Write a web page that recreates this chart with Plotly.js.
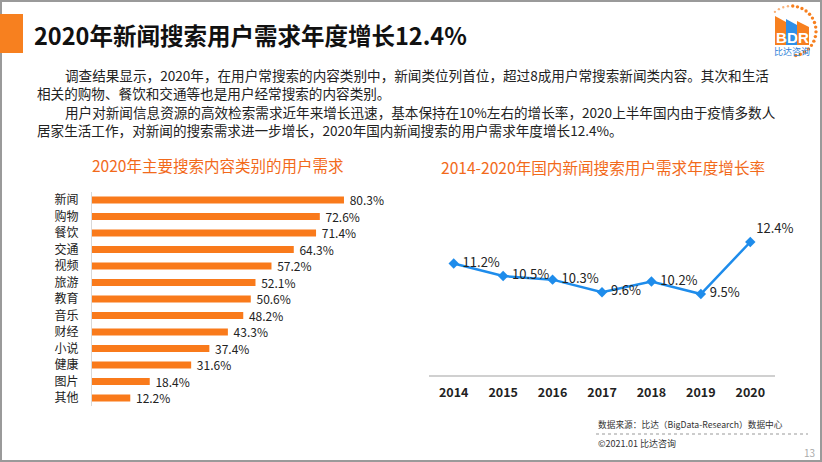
<!DOCTYPE html>
<html>
<head>
<meta charset="utf-8">
<script src="https://cdn.plot.ly/plotly-3.0.1.min.js"></script>
<style>
  html, body { margin: 0; padding: 0; background: #fff; }
  #chart { width: 822px; height: 462px; }
</style>
</head>
<body>
<div id="chart"></div>
<script>
// ---- data ----
const categories = ['新闻','购物','餐饮','交通','视频','旅游','教育','音乐','财经','小说','健康','图片','其他'];
const demand = [80.3,72.6,71.4,64.3,57.2,52.1,50.6,48.2,43.3,37.4,31.6,18.4,12.2];
const years = ['2014','2015','2016','2017','2018','2019','2020'];
const growth = [11.2,10.5,10.3,9.6,10.2,9.5,12.4];

// ---- helpers: pixel -> paper ----
const W = 822, H = 462;
const px = x => x / W;
const py = y => 1 - y / H;

const FONT = '"Noto Sans CJK SC", "Noto Sans", sans-serif';
const ORANGE = '#F97A1B';
const BLUE = '#1E8CEB';

const barTrace = {
  type: 'bar',
  orientation: 'h',
  x: demand,
  y: categories,
  xaxis: 'x', yaxis: 'y',
  marker: { color: ORANGE, line: { width: 0 } },
  text: demand.map(v => ' ' + v.toFixed(1) + '%'),
  textposition: 'outside',
  constraintext: 'none',
  textfont: { family: FONT, size: 12, color: '#222' },
  cliponaxis: false,
  hoverinfo: 'none'
};

const lastIdx = growth.length - 1;
const lineTrace = {
  type: 'scatter',
  mode: 'lines+markers+text',
  x: years,
  y: growth,
  xaxis: 'x2', yaxis: 'y2',
  line: { color: BLUE, width: 2.5 },
  marker: { symbol: 'diamond', size: 8, color: BLUE },
  text: growth.map((v, i) => (i === lastIdx ? '' : ' ') + v.toFixed(1) + '%'),
  textposition: growth.map((v, i) => i === lastIdx ? 'top right' : 'middle right'),
  textfont: { family: FONT, size: 13, color: '#222' },
  cliponaxis: false,
  hoverinfo: 'none'
};

const ann = (text, x, y, opts = {}) => Object.assign({
  text, x: px(x), y: py(y), xref: 'paper', yref: 'paper',
  xanchor: 'left', yanchor: 'middle', showarrow: false,
  font: { family: FONT, size: 13.5, color: '#222' }
}, opts);

const paraFont = { family: FONT, size: 13.6, color: '#222' };
const logoFont = { family: 'Liberation Sans, Arial, sans-serif', size: 15, color: '#fff', weight: 'bold' };

const annotations = [
  ann('2020年新闻搜索用户需求年度增长12.4%', 32, 35, { font: { family: FONT, size: 23.5, color: '#111', weight: 'bold' } }),
  ann('调查结果显示，2020年，在用户常搜索的内容类别中，新闻类位列首位，超过8成用户常搜索新闻类内容。其次和生活', 63, 75, { font: paraFont }),
  ann('相关的购物、餐饮和交通等也是用户经常搜索的内容类别。', 35, 93, { font: paraFont }),
  ann('用户对新闻信息资源的高效检索需求近年来增长迅速，基本保持在10%左右的增长率，2020上半年国内由于疫情多数人', 63, 112, { font: paraFont }),
  ann('居家生活工作，对新闻的搜索需求进一步增长，2020年国内新闻搜索的用户需求年度增长12.4%。', 35, 130, { font: paraFont }),
  ann('2020年主要搜索内容类别的用户需求', 90, 165, { font: { family: FONT, size: 15.5, color: '#F26A1B' } }),
  ann('2014-2020年国内新闻搜索用户需求年度增长率', 439, 167, { font: { family: FONT, size: 15.6, color: '#F26A1B' } }),
  ann('数据来源：比达（BigData-Research）数据中心', 596, 424, { font: { family: FONT, size: 8.7, color: '#333' } }),
  ann('©2021.01 比达咨询', 596, 443, { font: { family: FONT, size: 9, color: '#333' } }),
  ann('13', 802, 452, { font: { family: FONT, size: 10, color: '#aaa' } }),
  // logo text
  ann('B', 781, 37, { xanchor: 'center', font: logoFont }),
  ann('D', 792, 37, { xanchor: 'center', font: logoFont }),
  ann('R', 803.5, 37, { xanchor: 'center', font: logoFont }),
  ann('比达咨询', 792, 51.5, { xanchor: 'center', font: { family: FONT, size: 9, color: '#2F7FD8' } })
];

const poly = pts => 'M ' + pts.map(p => px(p[0]) + ',' + py(p[1])).join(' L ') + ' Z';

const shapes = [
  // page frame
  { type: 'rect', xref: 'paper', yref: 'paper', x0: px(1), x1: px(821), y0: py(461), y1: py(1),
    line: { color: '#9a9a9a', width: 2 } },
  // orange title block
  { type: 'rect', xref: 'paper', yref: 'paper', x0: px(0), x1: px(23), y0: py(53), y1: py(14),
    fillcolor: '#F7801F', line: { width: 0 } },
  // footer dotted rule
  { type: 'line', xref: 'paper', yref: 'paper', x0: px(596), x1: px(808), y0: py(434), y1: py(434),
    line: { color: '#999', width: 1, dash: 'dot' } },
  // logo buildings
  { type: 'path', xref: 'paper', yref: 'paper', path: poly([[775,16],[786,22],[786,45],[775,45]]), fillcolor: '#F7801F', line: { width: 0 } },
  { type: 'path', xref: 'paper', yref: 'paper', path: poly([[786,19],[797,25],[797,45],[786,45]]), fillcolor: '#2F8FE8', line: { width: 0 } },
  { type: 'path', xref: 'paper', yref: 'paper', path: poly([[797,21],[809,27],[809,45],[797,45]]), fillcolor: '#F7801F', line: { width: 0 } }
];

// logo dotted arc (decoration): small dots around a circle
const cx = 791, cy = 31, r = 25;
for (let a = 50; a <= 260; a += 11) {
  const t = a * Math.PI / 180;
  const X = cx - r * Math.cos(t), Y = cy - r * Math.sin(t);
  const rr = a < 90 ? 1.2 : 1.7;
  shapes.push({ type: 'circle', xref: 'paper', yref: 'paper',
    x0: px(X - rr), x1: px(X + rr), y0: py(Y + rr), y1: py(Y - rr),
    fillcolor: a < 90 ? '#F9B27A' : '#F7801F', line: { width: 0 } });
}

const layout = {
  width: W, height: H,
  margin: { l: 0, r: 0, t: 0, b: 0 },
  paper_bgcolor: '#fff', plot_bgcolor: 'rgba(0,0,0,0)',
  showlegend: false,
  bargap: 0.58,
  font: { family: FONT, color: '#222' },
  xaxis: {
    domain: [px(92), px(372)], range: [0, 280 / 3.138],
    visible: false, fixedrange: true
  },
  yaxis: {
    domain: [py(406.25), py(191.75)], type: 'category',
    range: [12.5, -0.5],
    showline: true, linecolor: '#d9d9d9', linewidth: 1,
    ticks: '', showgrid: false, zeroline: false,
    ticklabelstandoff: 10,
    tickfont: { family: FONT, size: 12, color: '#222' }
  },
  xaxis2: {
    domain: [px(429), px(775)], type: 'category', range: [-0.5, 6.5],
    anchor: 'y2',
    showline: true, linecolor: '#d0d0d0', linewidth: 1.5,
    ticks: '', showgrid: false, zeroline: false,
    ticklabelstandoff: 5,
    tickfont: { family: FONT, size: 12.5, color: '#222', weight: 'bold' }
  },
  yaxis2: {
    domain: [py(375), py(200)], anchor: 'x2',
    range: [12.4 - 133 / 17.93, 12.4 + 42 / 17.93],
    visible: false, showgrid: false, zeroline: false
  },
  annotations, shapes
};

Plotly.newPlot('chart', [barTrace, lineTrace], layout, { displayModeBar: false, staticPlot: true });
</script>
</body>
</html>
